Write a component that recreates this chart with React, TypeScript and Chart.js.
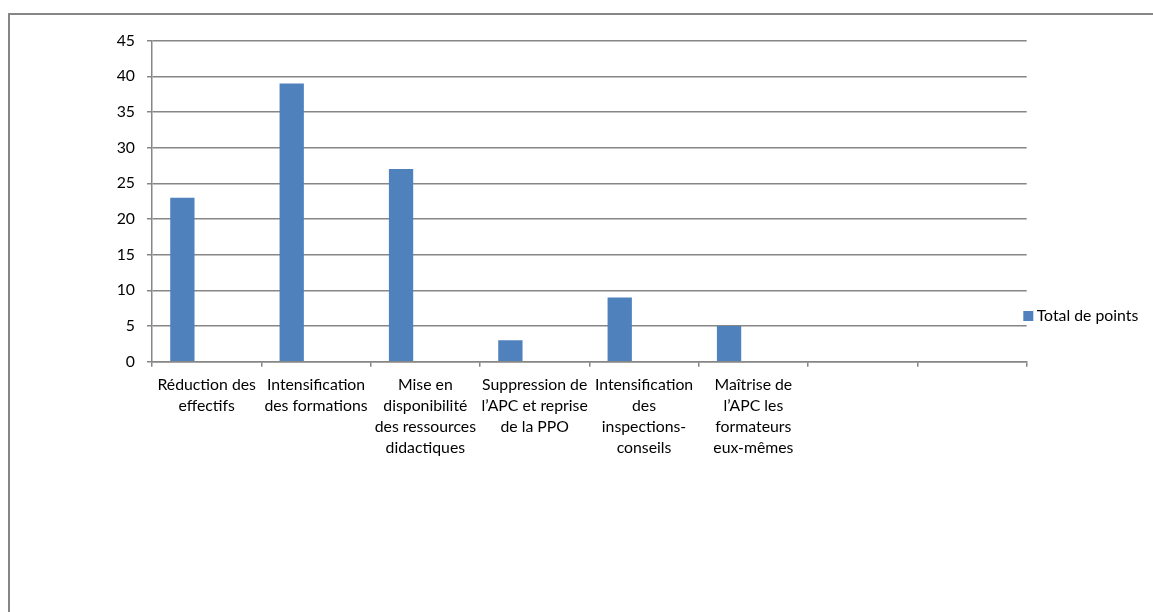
import React, { useEffect, useRef } from "react";
import { Chart, registerables } from "chart.js";

Chart.register(...registerables);

// Category labels, already broken into lines as they wrap under each slot
const categories: string[][] = [
  ["Réduction des", "effectifs"],
  ["Intensification", "des formations"],
  ["Mise en", "disponibilité", "des ressources", "didactiques"],
  ["Suppression de", "l’APC et reprise", "de la PPO"],
  ["Intensification", "des", "inspections-", "conseils"],
  ["Maîtrise de", "l’APC les", "formateurs", "eux-mêmes"],
  [""],
  [""],
];

const seriesName = "Total de points";
const totalPoints: (number | null)[] = [23, 39, 27, 3, 9, 5, null, null];
// Two unnamed, empty series share each category slot with the main one
const emptySeriesA: (number | null)[] = [null, null, null, null, null, null, null, null];
const emptySeriesB: (number | null)[] = [null, null, null, null, null, null, null, null];

const yMin = 0;
const yMax = 45;
const yStep = 5;

const FONT = "Lato, 'Open Sans', sans-serif";
const FONT_SIZE = 15.8;
const AXIS_GREY = "#868686";
const BAR_BLUE = "#4F81BD";
const LINE_W = 1.5;

// Legend drawn at the right of the plot, vertically centred on the canvas
const sideLegend = {
  id: "sideLegend",
  afterDraw(chart: any) {
    const { ctx, chartArea } = chart;
    const box = 10;
    const x = chartArea.right - 3.4;
    const y = chart.height / 2;
    ctx.save();
    ctx.font = `${FONT_SIZE}px ${FONT}`;
    ctx.textBaseline = "middle";
    ctx.textAlign = "left";
    chart.data.datasets
      .filter((ds: any) => ds.label)
      .forEach((ds: any, i: number) => {
        const yy = y + i * 21;
        ctx.fillStyle = ds.backgroundColor;
        ctx.fillRect(x, yy - box / 2, box, box);
        ctx.fillStyle = "#000";
        ctx.fillText(ds.label, x + box + 3.4, yy);
      });
    ctx.restore();
  },
};

export default function App() {
  const canvasRef = useRef<HTMLCanvasElement | null>(null);

  useEffect(() => {
    const canvas = canvasRef.current;
    if (!canvas) return;
    const chart = new Chart(canvas, {
      type: "bar",
      data: {
        labels: categories,
        datasets: [
          { label: seriesName, data: totalPoints, backgroundColor: BAR_BLUE },
          { label: "", data: emptySeriesA, backgroundColor: BAR_BLUE },
          { label: "", data: emptySeriesB, backgroundColor: BAR_BLUE },
        ],
      },
      options: {
        animation: false,
        responsive: false,
        maintainAspectRatio: false,
        layout: { padding: { top: 25.7, left: 0, right: 126.3, bottom: 0 } },
        datasets: {
          bar: { categoryPercentage: 3 / 4.5, barPercentage: 1 },
        },
        plugins: {
          legend: { display: false },
          tooltip: { enabled: false },
          title: { display: false },
        },
        scales: {
          x: {
            offset: true,
            grid: {
              display: true,
              offset: true,
              drawOnChartArea: false,
              drawTicks: true,
              tickLength: 5,
              color: AXIS_GREY,
              lineWidth: LINE_W,
            },
            border: { display: true, color: AXIS_GREY, width: LINE_W },
            ticks: {
              autoSkip: false,
              maxRotation: 0,
              minRotation: 0,
              padding: 8,
              color: "#000",
              font: { family: FONT, size: FONT_SIZE, lineHeight: "21px" },
            },
            afterFit: (scale: any) => {
              scale.height = 255.3;
            },
          },
          y: {
            min: yMin,
            max: yMax,
            grid: {
              color: AXIS_GREY,
              lineWidth: LINE_W,
              drawTicks: true,
              tickLength: 5,
            },
            border: { display: true, color: AXIS_GREY, width: LINE_W },
            ticks: {
              stepSize: yStep,
              padding: 12,
              color: "#000",
              font: { family: FONT, size: FONT_SIZE },
            },
            afterFit: (scale: any) => {
              scale.width = 142;
            },
          },
        },
      },
      plugins: [sideLegend],
    });
    return () => chart.destroy();
  }, []);

  return (
    <div
      style={{
        position: "fixed",
        left: 0,
        top: 0,
        width: "100vw",
        height: "100vh",
        overflow: "hidden",
        background: "#fff",
      }}
    >
      <div
        style={{
          position: "absolute",
          left: 8,
          top: 13,
          width: 1200,
          height: 700,
          border: `2px solid ${AXIS_GREY}`,
          boxSizing: "border-box",
        }}
      />
      <canvas
        ref={canvasRef}
        width={1143}
        height={602}
        style={{ position: "absolute", left: 10, top: 15, width: 1143, height: 602 }}
      />
    </div>
  );
}
